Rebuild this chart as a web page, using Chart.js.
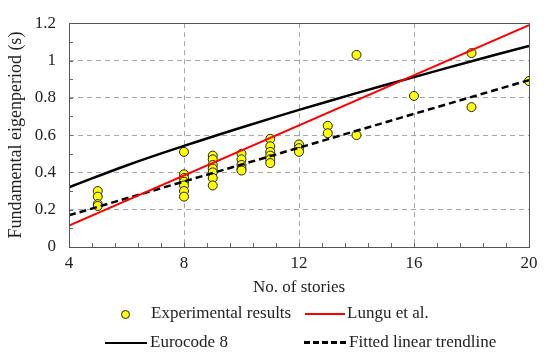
<!DOCTYPE html>
<html>
<head>
<meta charset="utf-8">
<script src="https://cdn.jsdelivr.net/npm/chart.js@4"></script>
<style>
    html, body { margin: 0; padding: 0; background: #fff; }
    #wrap { position: relative; width: 550px; height: 352px; }
    #chart { position: absolute; left: 0; top: 0; }
    .lg { position: absolute; font-family: 'Liberation Serif', 'Times New Roman', serif; font-size: 17px; color: #222; line-height: 20px; white-space: nowrap; }
    .sw { position: absolute; height: 0; }
    .dot { position: absolute; width: 7px; height: 7px; border: 1px solid #222; border-radius: 50%; background: #ffff00; }
</style>
</head>
<body>
<div id="wrap">
    <canvas id="chart" width="550" height="352"></canvas>
    <!-- 범례: 2x2 배치 -->
    <div class="dot" style="left:121px; top:310px;"></div>
    <div class="lg" style="left:151px; top:303px;">Experimental results</div>
    <div class="sw" style="left:305px; top:313px; width:40px; border-top:2px solid #ff0000;"></div>
    <div class="lg" style="left:347px; top:303px;">Lungu et al.</div>
    <div class="sw" style="left:105px; top:342px; width:42px; border-top:2.5px solid #000;"></div>
    <div class="lg" style="left:150px; top:332px;">Eurocode 8</div>
    <div class="sw" style="left:304px; top:341px; width:42px; height:2.5px; background:repeating-linear-gradient(90deg,#000 0 6px,transparent 6px 9px);"></div>
    <div class="lg" style="left:349px; top:332px;">Fitted linear trendline</div>
</div>
<script>
// 실험값 (층수별 고유주기)
const expStories = [5, 5, 5, 5,
    8, 8, 8, 8, 8, 8, 8,
    9, 9, 9, 9, 9, 9, 9,
    10, 10, 10, 10, 10,
    11, 11, 11, 11, 11, 11,
    12, 12, 12,
    13, 13,
    14, 14,
    16,
    18, 18,
    20];
const expPeriods = [0.30, 0.27, 0.23, 0.22,
    0.51, 0.39, 0.37, 0.35, 0.33, 0.30, 0.27,
    0.49, 0.47, 0.44, 0.42, 0.40, 0.37, 0.33,
    0.50, 0.47, 0.44, 0.42, 0.41,
    0.58, 0.54, 0.51, 0.49, 0.47, 0.45,
    0.55, 0.53, 0.51,
    0.65, 0.61,
    1.03, 0.60,
    0.81,
    1.04, 0.75,
    0.89];

// 직선 두 개 (양 끝점)
const lineStories = [4, 20];
const lunguPeriods = [0.115, 1.19];
const trendPeriods = [0.17, 0.895];

// Eurocode 8 곡선
const ecStories = [4, 6, 8, 10, 12, 14, 16, 18, 20];
const ecPeriods = [0.32, 0.437, 0.542, 0.641, 0.735, 0.825, 0.911, 0.996, 1.078];

const xTicks = [4, 8, 12, 16, 20];
const yTicks = [0, 0.2, 0.4, 0.6, 0.8, 1, 1.2];

const pts = (xs, ys) => xs.map((x, i) => ({ x: x, y: ys[i] }));

const serif = "'Liberation Serif', 'Times New Roman', serif";

// 테두리 + 안쪽 보조 눈금
const framePlugin = {
    id: 'frame',
    afterDraw(chart) {
        const { ctx, chartArea: a, scales } = chart;
        ctx.save();
        ctx.strokeStyle = '#666';
        ctx.lineWidth = 1;
        ctx.beginPath();
        for (let v = 4; v <= 20.001; v += 0.8) {
            const px = Math.round(scales.x.getPixelForValue(v)) + 0.5;
            ctx.moveTo(px, a.bottom);
            ctx.lineTo(px, a.bottom - 4);
        }
        for (let v = 0; v <= 1.2001; v += 0.1) {
            const py = Math.round(scales.y.getPixelForValue(v)) + 0.5;
            ctx.moveTo(a.left, py);
            ctx.lineTo(a.left + 4, py);
        }
        ctx.stroke();
        ctx.strokeStyle = '#555';
        ctx.strokeRect(Math.round(a.left) + 0.5, Math.round(a.top) + 0.5,
            Math.round(a.right - a.left), Math.round(a.bottom - a.top));
        ctx.restore();
    }
};

new Chart(document.getElementById('chart'), {
    type: 'scatter',
    data: {
        datasets: [
            {
                label: 'Experimental results',
                data: pts(expStories, expPeriods),
                backgroundColor: '#ffff00',
                borderColor: '#222',
                borderWidth: 1,
                pointRadius: 4.5,
                order: 5
            },
            {
                label: 'Lungu et al.',
                data: pts(lineStories, lunguPeriods),
                showLine: true,
                borderColor: '#ff0000',
                borderWidth: 2,
                pointRadius: 0,
                order: 1
            },
            {
                label: 'Eurocode 8',
                data: pts(ecStories, ecPeriods),
                showLine: true,
                borderColor: '#000',
                borderWidth: 2.5,
                pointRadius: 0,
                tension: 0.4,
                order: 2
            },
            {
                label: 'Fitted linear trendline',
                data: pts(lineStories, trendPeriods),
                showLine: true,
                borderColor: '#000',
                borderWidth: 2.5,
                borderDash: [7, 4],
                pointRadius: 0,
                order: 3
            }
        ]
    },
    options: {
        responsive: false,
        animation: false,
        layout: { padding: { left: 0, right: 21, top: 23, bottom: 54 } },
        plugins: {
            legend: { display: false },
            tooltip: { enabled: false }
        },
        scales: {
            x: {
                type: 'linear',
                min: 4,
                max: 20,
                afterBuildTicks: s => { s.ticks = xTicks.map(v => ({ value: v })); },
                afterFit: s => { s.height = 51; },
                ticks: { color: '#222', padding: 6, font: { family: serif, size: 17 } },
                grid: {
                    drawTicks: false,
                    color: c => (c.tick && (c.tick.value === 4 || c.tick.value === 20)) ? 'rgba(0,0,0,0)' : '#a6a6a6',
                    lineWidth: 1
                },
                border: { display: false, dash: [5, 4] },
                title: {
                    display: true,
                    text: 'No. of stories',
                    color: '#222',
                    padding: { top: 0, bottom: 0 },
                    font: { family: serif, size: 17 }
                }
            },
            y: {
                min: 0,
                max: 1.2,
                afterBuildTicks: s => { s.ticks = yTicks.map(v => ({ value: v })); },
                afterFit: s => { s.width = 69; },
                ticks: {
                    color: '#222',
                    padding: 13,
                    font: { family: serif, size: 17 },
                    callback: v => String(Number(v.toFixed(1)))
                },
                grid: {
                    drawTicks: false,
                    color: c => (c.tick && (c.tick.value === 0 || c.tick.value === 1.2)) ? 'rgba(0,0,0,0)' : '#a6a6a6',
                    lineWidth: 1
                },
                border: { display: false, dash: [5, 4] },
                title: {
                    display: true,
                    text: 'Fundamental eigenperiod (s)',
                    color: '#222',
                    padding: { top: 5, bottom: 0 },
                    font: { family: serif, size: 18 }
                }
            }
        }
    },
    plugins: [framePlugin]
});
</script>
</body>
</html>
